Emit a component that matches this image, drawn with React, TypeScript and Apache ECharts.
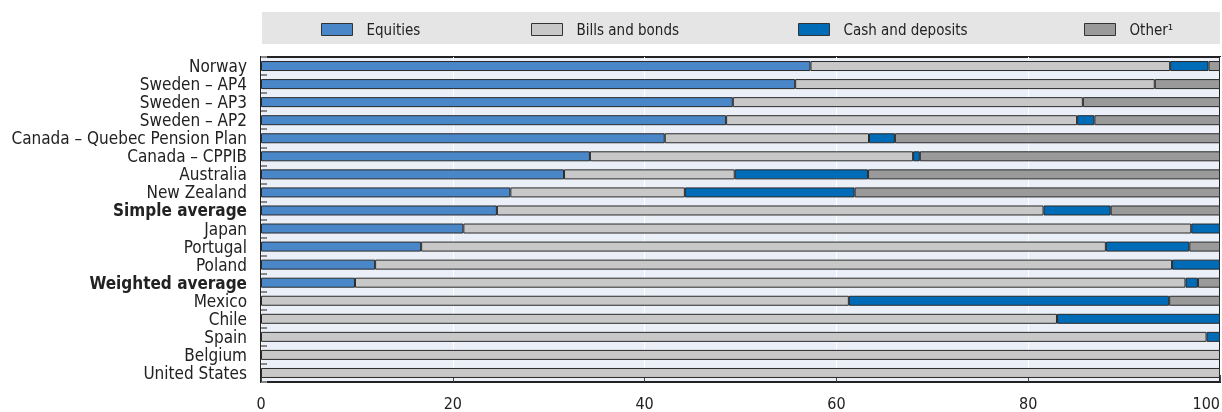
import React, { useEffect, useRef } from "react";
import * as echarts from "echarts";

const categories = [
  "Norway",
  "Sweden – AP4",
  "Sweden – AP3",
  "Sweden – AP2",
  "Canada – Quebec Pension Plan",
  "Canada – CPPIB",
  "Australia",
  "New Zealand",
  "Simple average",
  "Japan",
  "Portugal",
  "Poland",
  "Weighted average",
  "Mexico",
  "Chile",
  "Spain",
  "Belgium",
  "United States",
];

const equities = [57.3, 55.7, 49.2, 48.5, 42.1, 34.3, 31.6, 26.0, 24.6, 21.1, 16.7, 11.9, 9.8, null, null, null, null, null];
const billsAndBonds = [37.5, 37.5, 36.5, 36.6, 21.3, 33.7, 17.8, 18.2, 57.0, 75.9, 71.4, 83.1, 86.6, 61.3, 83.0, 98.6, 100, 100];
const cashAndDeposits = [4.0, null, null, 1.8, 2.7, 0.7, 13.9, 17.7, 7.0, 3.0, 8.7, 5.0, 1.3, 33.4, 17.0, 1.4, null, null];
const other = [1.2, 6.8, 14.3, 13.1, 33.9, 31.3, 36.7, 38.1, 11.4, null, 3.2, null, 2.3, 5.3, null, null, null, null];

const xTicks = [0, 20, 40, 60, 80, 100];
const boldCategories = ["Simple average", "Weighted average"];

const seriesNames = ["Equities", "Bills and bonds", "Cash and deposits", "Other¹"];
const seriesColors = ["#4a87c9", "#c8c8c8", "#006bb6", "#9a9a9a"];
const legendLefts = [321, 531, 798, 1084];

const FONT = "'Liberation Sans Narrow', 'DejaVu Sans Condensed', 'Roboto', sans-serif";

export default function App() {
  const ref = useRef<HTMLDivElement>(null);
  useEffect(() => {
    if (!ref.current) return;
    const chart = echarts.init(ref.current, undefined, { renderer: "svg" });
    const seriesData = [equities, billsAndBonds, cashAndDeposits, other];
    const option: any = {
      animation: false,
      textStyle: { fontFamily: FONT },
      graphic: [
        {
          type: "rect",
          shape: { x: 262, y: 12, width: 958, height: 32 },
          style: { fill: "#e5e5e5" },
          z: -1,
        },
      ],
      legend: seriesNames.map((n, i) => ({
        data: [n],
        left: legendLefts[i],
        top: 22,
        itemWidth: 31,
        itemHeight: 12,
        icon: "rect",
        padding: 0,
        itemStyle: { borderColor: "#333", borderWidth: 1 },
        textStyle: { fontSize: 15, color: "#222", fontFamily: FONT, padding: [0, 0, 0, 9] },
        selectedMode: false,
      })),
      grid: {
        left: 261,
        right: 2,
        top: 57,
        bottom: 30,
        outerBoundsMode: "none",
        containLabel: false,
        show: true,
        backgroundColor: "#ebeff8",
        borderColor: "#222",
        borderWidth: 2,
        z: 0,
      },
      xAxis: {
        type: "value",
        min: 0,
        max: 100,
        interval: 20,
        axisLine: { show: false },
        axisTick: { show: true, inside: true, length: 7, lineStyle: { color: "#444" } },
        splitLine: { show: true, lineStyle: { color: "#ffffff", width: 1 } },
        axisLabel: {
          fontSize: 16,
          color: "#222",
          margin: 13,
          fontFamily: FONT,
          alignMaxLabel: "right",
          formatter: (v: number) => (xTicks.includes(v) ? String(v) : ""),
        },
      },
      yAxis: {
        type: "category",
        inverse: true,
        data: categories,
        axisLine: { show: false },
        axisTick: { show: true, inside: true, length: 6, lineStyle: { color: "#888", width: 2 } },
        axisLabel: {
          interval: 0,
          fontSize: 17,
          color: "#222",
          margin: 14,
          fontFamily: FONT,
          formatter: (v: string) => (boldCategories.includes(v) ? `{b|${v}}` : v),
          rich: {
            b: { fontWeight: "bold", fontSize: 17, color: "#222", fontFamily: FONT },
          },
        },
      },
      series: seriesNames.map((n, i) => ({
        name: n,
        type: "bar",
        stack: "total",
        data: seriesData[i],
        barWidth: 10,
        itemStyle: { color: seriesColors[i], borderColor: "#2a2a2a", borderWidth: 1 },
      })),
    };
    chart.setOption(option);
    return () => chart.dispose();
  }, []);
  return (
    <div
      ref={ref}
      style={{ position: "fixed", left: 0, top: 0, width: 1222, height: 412 }}
    />
  );
}
